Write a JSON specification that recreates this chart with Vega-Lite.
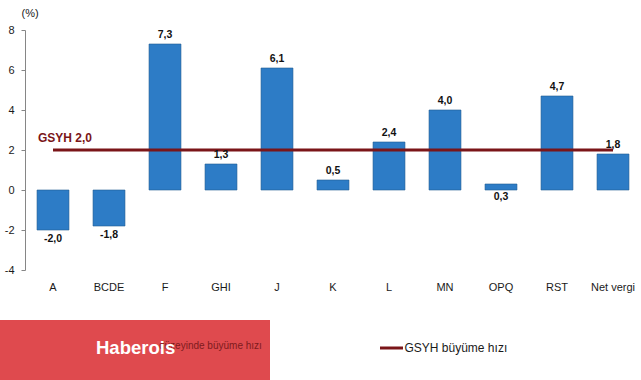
{
  "$schema": "https://vega.github.io/schema/vega-lite/v6.json",
  "width": 616,
  "height": 240,
  "autosize": {"type": "none"},
  "padding": {"left": 25, "top": 30, "right": 0, "bottom": 110},
  "background": "white",
  "config": {
    "font": "Liberation Sans",
    "view": {"stroke": null},
    "locale": {"number": {"decimal": ",", "thousands": ".", "grouping": [3], "currency": ["", ""], "minus": "-"}}
  },
  "data": {
    "values": [
      {"cat": "A", "value": -2.0, "gsyh": 2.0},
      {"cat": "BCDE", "value": -1.8, "gsyh": 2.0},
      {"cat": "F", "value": 7.3, "gsyh": 2.0},
      {"cat": "GHI", "value": 1.3, "gsyh": 2.0},
      {"cat": "J", "value": 6.1, "gsyh": 2.0},
      {"cat": "K", "value": 0.5, "gsyh": 2.0},
      {"cat": "L", "value": 2.4, "gsyh": 2.0},
      {"cat": "MN", "value": 4.0, "gsyh": 2.0},
      {"cat": "OPQ", "value": 0.3, "gsyh": 2.0},
      {"cat": "RST", "value": 4.7, "gsyh": 2.0},
      {"cat": "Net vergi", "value": 1.8, "gsyh": 2.0}
    ]
  },
  "encoding": {
    "x": {
      "field": "cat",
      "type": "nominal",
      "sort": null,
      "scale": {"paddingInner": 0.43, "paddingOuter": 0.215},
      "axis": {
        "title": null,
        "domain": false,
        "ticks": false,
        "labelAngle": 0,
        "labelPadding": 11,
        "labelFontSize": 11,
        "labelColor": "#1a1a1a"
      }
    },
    "y": {
      "field": "value",
      "type": "quantitative",
      "scale": {"domain": [-4, 8], "nice": false, "zero": false},
      "axis": {
        "values": [-4, -2, 0, 2, 4, 6, 8],
        "tickCount": 7,
        "labelOverlap": false,
        "labelBound": false,
        "grid": false,
        "domain": true,
        "domainColor": "#868686",
        "ticks": true,
        "tickColor": "#868686",
        "tickSize": 4,
        "labelPadding": 7,
        "labelFontSize": 11,
        "labelColor": "#1a1a1a",
        "title": "(%)",
        "titleAngle": 0,
        "titleAlign": "left",
        "titleBaseline": "middle",
        "titleX": -4,
        "titleY": -17,
        "titleFontWeight": "normal",
        "titleFontSize": 11,
        "titleColor": "#1a1a1a"
      }
    }
  },
  "layer": [
    {
      "mark": {"type": "bar", "fill": "#2D7CC6", "stroke": "#1E5A92", "strokeWidth": 0.6}
    },
    {
      "transform": [{"filter": "datum.cat == 'A'"}],
      "mark": {"type": "point", "filled": true, "size": 0, "opacity": 0},
      "encoding": {
        "fill": {
          "datum": "düzeyinde büyüme hızı",
          "scale": {"range": ["#DF4A4E"]},
          "legend": {
            "orient": "none",
            "legendX": 71,
            "legendY": 286,
            "padding": 0,
            "title": "Haberois",
            "titleOrient": "left",
            "titlePadding": -176,
            "titleAnchor": "middle",
            "titleBaseline": "middle",
            "titleFontSize": 18.5,
            "titleFontWeight": "bold",
            "titleColor": "#ffffff",
            "symbolType": "M-1,-0.8667H8V1.1333H-1Z",
            "symbolSize": 3600,
            "symbolStrokeWidth": 0,
            "symbolOpacity": 1,
            "labelFontSize": 10,
            "labelColor": "#7E1B1D",
            "labelOffset": 99,
            "labelLimit": 300
          }
        }
      }
    },
    {
      "mark": {"type": "rule", "color": "#7F7F7F", "strokeWidth": 1},
      "encoding": {"y": {"datum": 0}}
    },
    {
      "mark": {"type": "line", "strokeWidth": 3},
      "encoding": {
        "y": {"field": "gsyh", "type": "quantitative"},
        "stroke": {
          "datum": "GSYH büyüme hızı",
          "scale": {"range": ["#7A1518"]},
          "legend": {
            "orient": "none",
            "legendX": 353.5,
            "legendY": 305,
            "padding": 0,
            "title": null,
            "symbolType": "stroke",
            "symbolSize": 529,
            "symbolStrokeWidth": 3,
            "labelFontSize": 12,
            "labelColor": "#1a1a1a",
            "labelOffset": 0
          }
        }
      }
    },
    {
      "transform": [{"filter": "datum.value >= 0 && datum.cat != 'OPQ'"}],
      "mark": {"type": "text", "baseline": "alphabetic", "dy": -6, "fontSize": 10.5, "fontWeight": "bold", "color": "#111111"},
      "encoding": {
        "text": {"field": "value", "type": "quantitative", "format": ".1f"}
      }
    },
    {
      "transform": [{"filter": "datum.value < 0"}],
      "mark": {"type": "text", "baseline": "top", "dy": 4, "fontSize": 10.5, "fontWeight": "bold", "color": "#111111"},
      "encoding": {
        "text": {"field": "value", "type": "quantitative", "format": ".1f"}
      }
    },
    {
      "transform": [{"filter": "datum.cat == 'OPQ'"}],
      "mark": {"type": "text", "baseline": "top", "dy": 2, "fontSize": 10.5, "fontWeight": "bold", "color": "#111111"},
      "encoding": {
        "y": {"datum": 0},
        "text": {"field": "value", "type": "quantitative", "format": ".1f"}
      }
    },
    {
      "transform": [{"filter": "datum.cat == 'A'"}],
      "mark": {"type": "text", "align": "left", "baseline": "alphabetic", "dx": -15, "dy": -8, "fontSize": 12, "fontWeight": "bold", "color": "#7A1518"},
      "encoding": {
        "y": {"field": "gsyh", "type": "quantitative"},
        "text": {"value": "GSYH 2,0"}
      }
    }
  ]
}
